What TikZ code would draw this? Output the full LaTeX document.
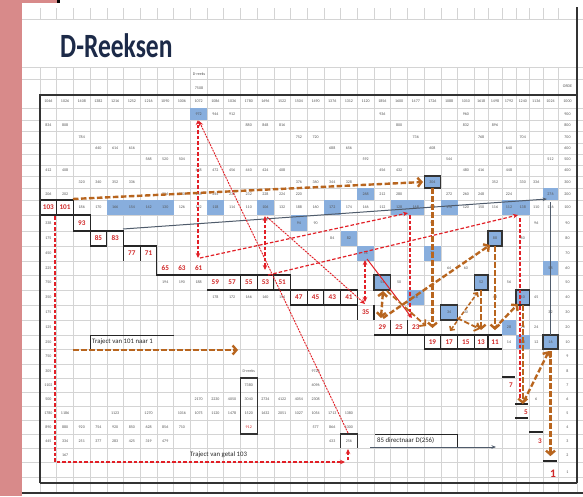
\documentclass[tikz,border=0pt]{standalone}
\usepackage{fontspec}
\setmainfont{Carlito}
\usetikzlibrary{arrows.meta}
\definecolor{pinkc}{HTML}{D88A8A}
\definecolor{gridc}{HTML}{D4D4D4}
\definecolor{bluec}{HTML}{88AEDD}
\definecolor{redc}{HTML}{E21F26}
\definecolor{rednum}{HTML}{D02828}
\definecolor{brownc}{HTML}{B8651E}
\definecolor{titlec}{HTML}{1C2A48}
\definecolor{numc}{HTML}{555555}
\definecolor{greyline}{HTML}{4F5B6B}
% column geometry
\foreach \j in {1,...,26}{%
  \pgfmathsetmacro\tmpa{40+16.7*(\j-1)}%
  \pgfmathsetmacro\tmpb{40+16.7*(\j-0.5)}%
  \expandafter\xdef\csname cl\j\endcsname{\tmpa}%
  \expandafter\xdef\csname cx\j\endcsname{\tmpb}%
  \expandafter\xdef\csname cw\j\endcsname{16.7}}
\foreach \j/\l/\w in {27/474.2/13.8,28/488/14,29/502/14,30/516/13.5,31/529.5/13.5,32/543/15,33/558/19}{%
  \pgfmathsetmacro\tmpb{\l+\w/2}%
  \expandafter\xdef\csname cl\j\endcsname{\l}%
  \expandafter\xdef\csname cx\j\endcsname{\tmpb}%
  \expandafter\xdef\csname cw\j\endcsname{\w}}
% row geometry
\foreach \r/\t/\b in {1000/95/108,900/108/120,800/120/131,700/131/143,600/143/154,500/154/165,400/165/176,300/176/188,200/188/200,100/200/215,90/215/231,80/231/246,70/246/261,60/261/275,50/275/290,40/290/305,30/305/320,20/320/335,10/335/349,9/349/364,8/364/378,7/378/392,6/392/406,5/406/420,4/420/434,3/434/448,2/448/462,1/462/483}{%
  \pgfmathsetmacro\tmpb{(\t+\b)/2}%
  \expandafter\xdef\csname rt\r\endcsname{\t}%
  \expandafter\xdef\csname rb\r\endcsname{\b}%
  \expandafter\xdef\csname ry\r\endcsname{\tmpb}}
\def\CL#1{\csname cl#1\endcsname}
\def\CX#1{\csname cx#1\endcsname}
\def\CW#1{\csname cw#1\endcsname}
\def\RT#1{\csname rt#1\endcsname}
\def\RB#1{\csname rb#1\endcsname}
\def\RY#1{\csname ry#1\endcsname}
\newcommand\bcell[2]{\fill[bluec] (\CL{#1},\RT{#2}) rectangle ++(\CW{#1},{\RB{#2}-\RT{#2}});}
\newcommand\bboxed[2]{\fill[bluec] (\CL{#1},\RT{#2}) rectangle ++(\CW{#1},{\RB{#2}-\RT{#2}});
  \draw[boxline] (\CL{#1},\RT{#2}) rectangle ++(\CW{#1},{\RB{#2}-\RT{#2}});}
\begin{document}
\begin{tikzpicture}[x=1pt,y=-1pt,
  gl/.style={draw=gridc,line width=0.5pt},
  stp/.style={draw=black!85,line width=1.1pt},
  boxline/.style={draw=black!80,line width=1.1pt},
  border/.style={draw=black!80,line width=1.3pt},
  cn/.style={font=\fontsize{4}{4}\selectfont,text=numc,inner sep=0pt},
  rn/.style={font=\bfseries\fontsize{7.2}{7.2}\selectfont,text=rednum,inner sep=0pt},
  lbl/.style={font=\fontsize{6.8}{6.8}\selectfont,text=black!85,inner sep=0pt,anchor=west},
  brw/.style={draw=brownc,line width=2.4pt,dash pattern=on 5.5pt off 2.5pt,-{Straight Barb[length=3.8pt,width=9pt]}},
  brwthin/.style={draw=brownc,line width=1.5pt,dash pattern=on 4pt off 2pt},
  rdd/.style={draw=redc,line width=1.2pt,dash pattern=on 3.5pt off 2pt,-{Stealth[length=5pt,width=4.5pt]}},
  rdthin/.style={draw=redc,line width=0.9pt,dash pattern=on 2pt off 1pt,-{Stealth[length=5pt,width=4.5pt]}},
  gry/.style={draw=greyline,line width=1pt,-{Stealth[length=4.5pt,width=3.5pt]}}]
\useasboundingbox (0,0) rectangle (583,496);
\fill[white] (0,0) rectangle (583,496);
\fill[pinkc] (0,0) rectangle (22,496);
\fill[pinkc] (0,0) rectangle (58,3);
\fill[black] (57,0) rectangle (60,3);
% grid
\foreach \j in {1,...,33}{\draw[gl] (\CL{\j},8) -- (\CL{\j},19); \draw[gl] (\CL{\j},67) -- (\CL{\j},493);}
\draw[gl] (577,8) -- (577,493);
\foreach \y in {19,67,79,108,120,131,143,154,165,176,188,200,215,231,246,261,275,290,305,320,335,349,364,378,392,406,420,434,448,462,477}{\draw[gl] (22,\y) -- (583,\y);}
% blue cells
\foreach \qc/\qr in {10/900,5/100,6/100,7/100,8/100,11/100,14/100,18/100,22/100,23/100,25/100,29/100,30/100,16/90,19/80,20/70,24/70,32/60,23/40,29/20,30/10,20/200,32/200}{\bcell{\qc}{\qr}}
\foreach \qc/\qr in {24/300,28/80,21/50,27/50,30/40,25/30,32/10}{\bboxed{\qc}{\qr}}
% title
\node[font=\bfseries\fontsize{34}{34}\selectfont,text=titlec,anchor=base west,inner sep=0pt] (title) at (60,57) {\scalebox{0.75}[1]{D-Reeksen}};
\node[cn] (dreekstop) at (199,74) {D-reeks};
\node[cn] (dtopval) at (199,88) {7508};
\node[cn] (orde) at (\CX{33},86) {ORDE};
% header row
\foreach \qc/\qt in {1/1046,2/1026,3/1408,4/1382,5/1216,6/1252,7/1216,8/1090,9/1006,10/1072,11/1086,12/1036,13/1780,14/1696,15/1522,16/1504,17/1490,18/1376,19/1312,20/1120,21/1856,22/1600,23/1477,24/1726,25/1088,26/1010,27/1618,28/1498,29/1792,30/1240,31/1136,32/1024}{\node[cn] (h\qc) at (\CX{\qc},\RY{1000}) {\qt};}
% row labels
\foreach \qr in {1000,900,800,700,600,500,400,300,200,100,90,80,70,60,50,40,30,20,10,9,8,7,6,5,4,3,2,1}{\node[cn] (lab\qr) at (\CX{33},\RY{\qr}) {\qr};}
% cell numbers
\foreach \qc/\qr/\qt in {10/900/972,11/900/944,12/900/912,21/900/936,26/900/960,
1/800/834,2/800/808,13/800/880,14/800/848,15/800/816,22/800/800,26/800/832,28/800/896,
3/700/784,16/700/752,17/700/720,23/700/736,27/700/768,30/700/704,
4/600/640,5/600/614,6/600/616,18/600/688,19/600/656,24/600/608,29/600/640,
7/500/568,8/500/520,9/500/504,20/500/592,25/500/544,32/500/512,
1/400/412,2/400/408,10/400/448,11/400/472,12/400/456,13/400/440,14/400/424,15/400/408,21/400/456,22/400/432,26/400/480,27/400/416,29/400/448,
3/300/320,4/300/340,5/300/352,6/300/336,16/300/376,17/300/360,18/300/344,19/300/328,24/300/304,28/300/352,30/300/330,31/300/336,
1/200/206,2/200/202,8/200/256,9/200/250,10/200/248,11/200/244,12/200/236,13/200/232,14/200/228,15/200/224,16/200/220,20/200/268,21/200/212,22/200/280,25/200/272,26/200/260,27/200/248,29/200/224,32/200/276,
3/100/186,4/100/170,5/100/166,6/100/154,7/100/142,8/100/130,9/100/126,10/100/122,11/100/118,12/100/114,13/100/110,14/100/106,15/100/132,16/100/188,17/100/160,18/100/172,19/100/174,20/100/146,21/100/112,22/100/128,23/100/168,24/100/184,25/100/196,26/100/120,27/100/150,28/100/116,29/100/112,30/100/138,31/100/110,32/100/136,
1/90/338,16/90/94,17/90/90,24/90/92,31/90/96,
1/80/175,18/80/84,19/80/82,28/80/88,30/80/80,
1/70/450,20/70/76,24/70/78,
1/60/225,25/60/64,26/60/60,32/60/58,
1/50/750,8/50/194,9/50/190,10/50/188,21/50/54,22/50/50,27/50/52,29/50/56,
1/40/350,11/40/178,12/40/172,13/40/166,14/40/160,15/40/154,23/40/46,28/40/48,30/40/40,31/40/45,
1/30/175,24/30/30,25/30/34,26/30/30,32/30/32,
1/20/125,29/20/28,30/20/20,31/20/24,
1/10/250,29/10/14,30/10/18,31/10/12,32/10/16,
1/9/750,
1/8/305,17/8/9728,32/8/8,
1/7/1102,13/7/7380,17/7/4096,
1/6/500,10/6/2170,11/6/2230,12/6/4050,13/6/3040,14/6/2734,15/6/4122,16/6/4054,17/6/2308,31/6/6,
1/5/1780,2/5/1186,5/5/1123,7/5/1270,9/5/1016,10/5/1075,11/5/1120,12/5/1478,13/5/1520,14/5/1632,15/5/2051,16/5/1027,17/5/1054,18/5/1713,19/5/1380,
1/4/890,2/4/880,3/4/920,4/4/754,5/4/920,6/4/850,7/4/628,8/4/856,9/4/710,17/4/577,18/4/866,19/4/1300,32/4/4,
1/3/445,2/3/334,3/3/251,4/3/377,5/3/283,6/3/425,7/3/319,8/3/479,18/3/433,19/3/256,
2/2/167,32/2/2}{\node[cn] (c-\qc-\qr) at (\CX{\qc},\RY{\qr}) {\qt};}
\node[cn,text=rednum] (c-13-4) at (\CX{13},\RY{4}) {912};
\node[cn] (dreeksbot) at (\CX{13},\RY{8}) {D-reeks};
% red sequence numbers
\foreach \qc/\qr/\qt in {1/100/103,2/100/101,3/90/93,4/80/85,5/80/83,6/70/77,7/70/71,8/60/65,9/60/63,10/60/61,11/50/59,12/50/57,13/50/55,14/50/53,15/50/51,16/40/47,17/40/45,18/40/43,19/40/41,20/30/35,21/20/29,22/20/25,23/20/23,24/10/19,25/10/17,26/10/15,27/10/13,28/10/11}{\node[rn] (r\qt) at (\CX{\qc},\RY{\qr}) {\qt};}
\node[rn] (r7) at (511,385) {7};
\node[rn] (r5) at (526,412) {5};
\node[rn] (r3) at (540,441) {3};
\node[rn,font=\bfseries\fontsize{11.5}{11.5}\selectfont] (r1) at (553,474) {1};
% step outline
\draw[stp] (\CL{1},200) -- (\CL{3},200) -- (\CL{3},231) -- (\CL{6},231) -- (\CL{6},261);
\draw[stp] (\CL{2},200) -- (\CL{2},215);
\draw[stp] (\CL{1},215) -- (\CL{4},215) -- (\CL{4},246) -- (\CL{5},246) -- (\CL{5},231);
\draw[stp] (\CL{6},246) -- (\CL{8},246) -- (\CL{8},275) -- (\CL{16},275) -- (\CL{16},305) -- (\CL{20},305);
\draw[stp] (\CL{7},246) -- (\CL{7},261);
\draw[stp] (\CL{11},290) -- (\CL{20},290) -- (\CL{20},320);
\foreach \j in {13,14,15}{\draw[stp] (\CL{\j},275) -- (\CL{\j},290);}
\foreach \j in {17,18,19}{\draw[stp] (\CL{\j},290) -- (\CL{\j},305);}
\draw[stp] (\CL{21},305) -- (\CL{21},320);
\draw[stp] (\CL{21},335) -- (\CL{29},335);
\foreach \j in {22,23}{\draw[stp] (\CL{\j},320) -- (\CL{\j},335);}
\draw[stp] (\CL{24},335) -- (\CL{24},349) -- (\CL{29},349);
\foreach \j in {25,26,27,28}{\draw[stp] (\CL{\j},335) -- (\CL{\j},349);}
\draw[stp] (502,377) -- (515,377);
\draw[stp] (515,404) -- (528,404);
\draw[stp] (515,418) -- (528,418);
\draw[stp] (529,432) -- (543,432);
\draw[stp] (543,461) -- (557,461);
% boxes
\draw[boxline] (\CL{13},378) rectangle (\CL{14},434);
\draw[boxline] (\CL{19},448) -- (\CL{19},434) -- (\CL{20},434) -- (\CL{20},448);
% table border
\draw[border] (40,483) -- (40,95) -- (577,95) -- (577,7);
\draw[border] (577,95) -- (577,483);
\draw[border] (40,483) -- (577,483);
\draw[border] (22,493) -- (583,493);
% legend labels
\draw[stp,line width=0.9pt] (\CL{4},349) -- (\CL{4},335) -- (\CL{9},335);
\node[lbl] (t101) at (92,342) {Traject van 101 naar 1};
\node[lbl] (t103) at (190,455) {Traject van getal 103};
\node[lbl] (t85) at (377,440) {85 directnaar D(256)};
\draw[stp,line width=0.9pt] (375,434) -- (457,434) -- (457,448);
% coordinates for connectors
\coordinate (g1s) at (123,229); \coordinate (g1e) at (547,199);
\coordinate (g2s) at (550,202); \coordinate (g2e) at (550,335);
\coordinate (g3s) at (370,447); \coordinate (g3e) at (496,447);
\coordinate (r1a) at (55,216); \coordinate (r1b) at (55,462); \coordinate (r1c) at (345,462);
\coordinate (r1d) at (348,460); \coordinate (r1e) at (348,449);
\coordinate (r2s) at (198,258); \coordinate (r2e) at (198,120);
\coordinate (r3s) at (200,258); \coordinate (r3e) at (408,213);
\coordinate (r4s) at (410,215); \coordinate (r4e) at (410,318);
\coordinate (r5s) at (348,433); \coordinate (r5e) at (199,121);
\coordinate (r6s) at (265,270); \coordinate (r6e) at (265,216);
\coordinate (r7s) at (268,275); \coordinate (r7e) at (518,215);
\coordinate (r8s) at (520,218); \coordinate (r8e) at (520,400);
\coordinate (r9s) at (267,217); \coordinate (r9e) at (365,304);
\coordinate (r10s) at (365,260); \coordinate (r10e) at (365,302);
\coordinate (r11s) at (367,259); \coordinate (r11e) at (412,318);
\coordinate (b1s) at (73,199); \coordinate (b1e) at (423,182);
\coordinate (b2s) at (\CX{24},188); \coordinate (b2e) at (\CX{24},328);
\coordinate (b3s) at (383,318); \coordinate (b3e) at (490,245);
\coordinate (b4s) at (\CX{28},246); \coordinate (b4e) at (\CX{28},330);
\coordinate (b5s) at (383,291); \coordinate (b5e) at (381,318);
\coordinate (b6s) at (387,291); \coordinate (b6e) at (426,326);
\coordinate (b7s) at (450,331); \coordinate (b7e) at (478,292);
\coordinate (b8s) at (457,318); \coordinate (b8e) at (480,329);
\coordinate (b9s) at (\CX{27},290); \coordinate (b9e) at (\CX{27},330);
\coordinate (b10s) at (494,329); \coordinate (b10e) at (518,304);
\coordinate (b11s) at (\CX{30},305); \coordinate (b11e) at (\CX{30},404);
\coordinate (b12s) at (524,401); \coordinate (b12e) at (549,351);
\coordinate (b13s) at (\CX{32},351); \coordinate (b13e) at (\CX{32},456);
\coordinate (bls) at (73,350); \coordinate (ble) at (238,350);
% grey connectors
\draw[gry] (g1s) -- (g1e);
\draw[greyline,line width=1pt] (g2s) -- (g2e);
\draw[gry] (g3s) -- (g3e);
% red connectors
\draw[rdd] (r1a) -- (r1b) -- (r1c);
\draw[rdd] (r1d) -- (r1e);
\draw[rdd,{Stealth[length=5pt,width=4.5pt]}-{Stealth[length=5pt,width=4.5pt]}] (r2s) -- (r2e);
\draw[rdd] (r3s) -- (r3e);
\draw[rdd] (r4s) -- (r4e);
\draw[rdthin] (r5s) -- (r5e);
\draw[rdd,{Stealth[length=5pt,width=4.5pt]}-{Stealth[length=5pt,width=4.5pt]}] (r6s) -- (r6e);
\draw[rdd] (r7s) -- (r7e);
\draw[redc,line width=1.2pt,dash pattern=on 3.5pt off 2pt] (r8s) -- (r8e);
\draw[rdthin] (r9s) -- (r9e);
\draw[rdd,{Stealth[length=5pt,width=4.5pt]}-{Stealth[length=5pt,width=4.5pt]}] (r10s) -- (r10e);
\draw[redc,line width=1pt,-{Stealth[length=5pt,width=4.5pt]}] (r11s) -- (r11e);
% brown connectors
\draw[brw] (b1s) -- (b1e);
\draw[brw] (b2s) -- (b2e);
\draw[brw] (b3s) -- (b3e);
\draw[brw] (b4s) -- (b4e);
\draw[brw,{Straight Barb[length=3.8pt,width=9pt]}-{Straight Barb[length=3.8pt,width=9pt]}] (b5s) -- (b5e);
\draw[brw,line width=1.8pt] (b6s) -- (b6e);
\draw[brwthin,{Straight Barb[length=3pt,width=6pt]}-{Straight Barb[length=3pt,width=6pt]}] (b7s) -- (b7e);
\draw[brw,line width=1.8pt] (b8s) -- (b8e);
\draw[brw] (b9s) -- (b9e);
\draw[brw] (b10s) -- (b10e);
\draw[brw] (b11s) -- (b11e);
\draw[brw] (b12s) -- (b12e);
\draw[brw] (b13s) -- (b13e);
\draw[brw] (bls) -- (ble);
\end{tikzpicture}
\end{document}
